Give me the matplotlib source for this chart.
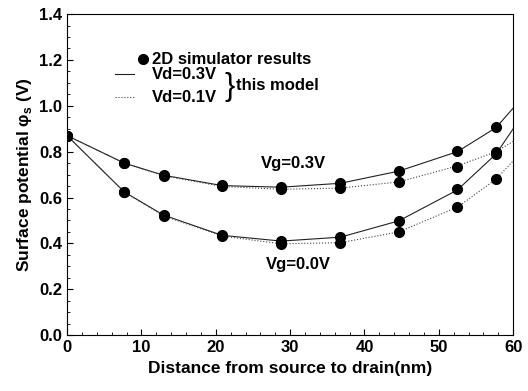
import numpy as np
import matplotlib.pyplot as plt
from matplotlib.lines import Line2D
from matplotlib.ticker import MultipleLocator

plt.rcParams['font.family'] = ['Liberation Sans', 'DejaVu Sans']
plt.rcParams['font.weight'] = 'bold'

# ==== data ====
x_model = [0, 7.7, 13.0, 20.85, 28.8, 36.75, 44.6, 52.5, 57.7, 60]
vg03_vd03 = [0.87, 0.75, 0.697, 0.652, 0.645, 0.662, 0.715, 0.80, 0.905, 0.99]
vg03_vd01 = [0.87, 0.75, 0.695, 0.648, 0.636, 0.641, 0.668, 0.738, 0.80, 0.845]
vg00_vd03 = [0.87, 0.624, 0.523, 0.435, 0.41, 0.427, 0.498, 0.633, 0.79, 0.90]
vg00_vd01 = [0.87, 0.624, 0.52, 0.432, 0.398, 0.403, 0.45, 0.558, 0.68, 0.76]

x_sim = [0, 7.7, 13.0, 20.85, 28.8, 36.75, 44.6, 52.5, 57.7]
sim_vg03_vd03 = [0.87, 0.75, 0.697, 0.654, 0.645, 0.662, 0.717, 0.805, 0.907]
sim_vg03_vd01 = [0.87, 0.75, 0.695, 0.650, 0.636, 0.641, 0.668, 0.735, 0.80]
sim_vg00_vd03 = [0.87, 0.624, 0.523, 0.435, 0.41, 0.427, 0.498, 0.636, 0.79]
sim_vg00_vd01 = [0.87, 0.624, 0.520, 0.432, 0.398, 0.403, 0.45, 0.558, 0.68]

fig = plt.figure(figsize=(5.28, 3.91), dpi=100)
ax = fig.add_axes([0.127, 0.143, 0.845, 0.821])

lw = 0.8
fs = 12
ax.plot(x_model, vg03_vd03, '-', color='#222222', lw=lw)
ax.plot(x_model, vg03_vd01, ':', color='#444444', lw=lw)
ax.plot(x_model, vg00_vd03, '-', color='#222222', lw=lw)
ax.plot(x_model, vg00_vd01, ':', color='#444444', lw=lw)

for ys in (sim_vg03_vd03, sim_vg03_vd01, sim_vg00_vd03, sim_vg00_vd01):
    ax.plot(x_sim, ys, 'o', color='black', ms=7, ls='none')

ax.text(30.5, 0.75, 'Vg=0.3V', ha='center', va='center', fontsize=fs)
ax.text(31.1, 0.306, 'Vg=0.0V', ha='center', va='center', fontsize=fs)

# legend drawn by hand
tr = ax.transAxes
ax.add_line(Line2D([0.170], [0.860], marker='o', color='black', ms=7, transform=tr))
ax.text(0.190, 0.860, '2D simulator results', transform=tr, va='center', fontsize=fs)
ax.add_line(Line2D([0.108, 0.150], [0.813, 0.813], ls='-', color='#222222', lw=lw, transform=tr))
ax.text(0.190, 0.813, 'Vd=0.3V', transform=tr, va='center', fontsize=fs)
ax.add_line(Line2D([0.108, 0.150], [0.741, 0.741], ls=':', color='#444444', lw=lw, transform=tr))
ax.text(0.190, 0.741, 'Vd=0.1V', transform=tr, va='center', fontsize=fs)
ax.text(0.352, 0.772, '}', transform=tr, va='center', fontsize=22, fontweight='normal')
ax.text(0.378, 0.779, 'this model', transform=tr, va='center', fontsize=fs)

ax.set_xlim(0, 60)
ax.set_ylim(0.0, 1.4)
ax.xaxis.set_major_locator(MultipleLocator(10))
ax.xaxis.set_minor_locator(MultipleLocator(2))
ax.yaxis.set_major_locator(MultipleLocator(0.2))
ax.yaxis.set_minor_locator(MultipleLocator(0.05))
ax.yaxis.set_major_formatter(plt.FormatStrFormatter('%.1f'))
ax.tick_params(which='both', direction='in', top=False, right=False, labelsize=fs)
ax.tick_params(which='major', length=4)
ax.tick_params(which='minor', length=2)
ax.set_xlabel('Distance from source to drain(nm)', fontsize=12.5, fontweight='bold')
ax.set_ylabel('Surface potential φ$_\\mathregular{s}$ (V)', fontsize=12.5, fontweight='bold')

fig.savefig('out.png', dpi=100)
